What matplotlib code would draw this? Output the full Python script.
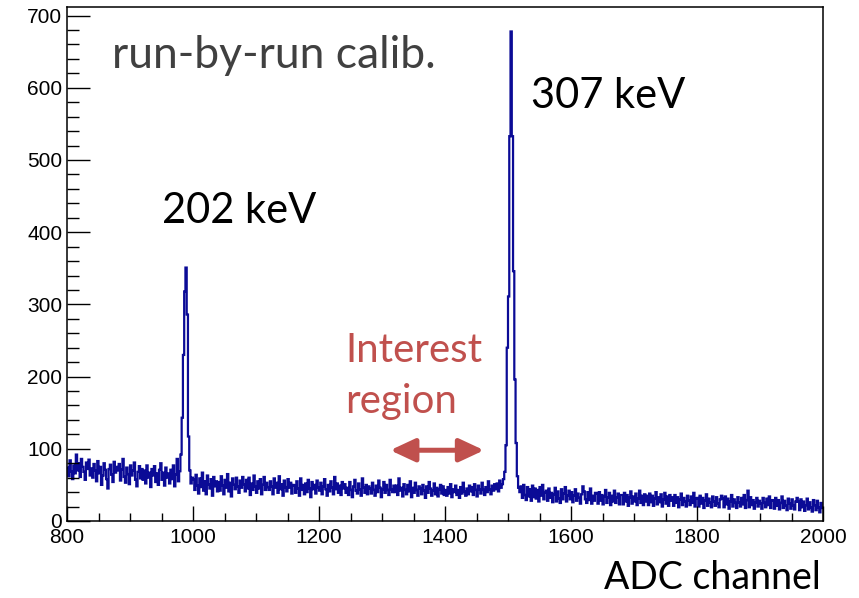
import numpy as np
import matplotlib
matplotlib.use("Agg")
import matplotlib.pyplot as plt
from matplotlib.ticker import MultipleLocator

# ==============================
# DATA (counts per 2-channel bin)
# ==============================
ADC_MIN = 800
ADC_MAX = 2000
BIN_WIDTH = 2

counts = [
    # 800 - 840
    74, 62, 84, 69, 58, 77, 66, 92, 70, 80, 61, 86, 75, 68, 57, 81, 72, 85, 63, 73,
    # 840 - 880
    60, 79, 70, 55, 83, 66, 75, 50, 63, 80, 71, 58, 45, 72, 78, 64, 54, 82, 67, 75,
    # 880 - 920
    70, 79, 56, 71, 86, 61, 53, 74, 65, 51, 77, 63, 70, 81, 57, 48, 68, 76, 59, 72,
    # 920 - 960
    57, 70, 52, 77, 60, 67, 47, 72, 63, 76, 54, 66, 50, 71, 80, 57, 67, 49, 74, 60,
    # 960 - 1000  (202 keV peak)
    66, 52, 71, 58, 77, 48, 64, 86, 55, 69, 92, 143, 230, 318, 351, 286, 117, 70, 52, 60,
    # 1000 - 1040
    58, 43, 64, 49, 38, 59, 47, 67, 42, 55, 37, 63, 51, 45, 58, 35, 61, 48, 55, 41,
    # 1040 - 1080
    54, 42, 62, 49, 37, 57, 46, 65, 41, 53, 34, 59, 50, 44, 60, 48, 39, 56, 46, 61,
    # 1080 - 1120
    51, 41, 57, 45, 60, 36, 52, 43, 63, 48, 39, 55, 45, 58, 37, 50, 61, 43, 53, 47,
    # 1120 - 1160
    43, 55, 48, 37, 59, 46, 53, 39, 62, 44, 51, 35, 56, 47, 41, 58, 46, 53, 38, 50,
    # 1160 - 1200
    49, 39, 55, 45, 35, 59, 43, 50, 37, 52, 40, 57, 45, 33, 54, 44, 50, 38, 56, 46,
    # 1200 - 1240
    42, 53, 37, 48, 58, 44, 35, 50, 41, 55, 46, 37, 61, 44, 52, 39, 49, 36, 54, 45,
    # 1240 - 1280
    51, 39, 46, 36, 54, 43, 33, 48, 57, 42, 38, 52, 44, 35, 59, 46, 39, 50, 37, 48,
    # 1280 - 1320
    45, 38, 53, 43, 35, 49, 40, 56, 46, 33, 44, 54, 39, 50, 43, 36, 57, 44, 40, 49,
    # 1320 - 1360
    40, 49, 36, 59, 42, 46, 34, 51, 43, 37, 50, 41, 55, 33, 46, 39, 53, 43, 35, 48,
    # 1360 - 1400
    45, 37, 50, 42, 32, 48, 39, 54, 45, 35, 42, 52, 37, 46, 34, 44, 50, 38, 48, 36,
    # 1400 - 1440
    43, 35, 47, 38, 51, 33, 44, 40, 49, 36, 43, 32, 47, 38, 53, 41, 35, 45, 37, 49,
    # 1440 - 1480
    41, 47, 36, 51, 43, 34, 49, 44, 38, 53, 43, 36, 47, 40, 55, 44, 37, 49, 42, 51,
    # 1480 - 1520  (307 keV peak)
    44, 52, 41, 56, 46, 51, 58, 68, 105, 240, 311, 533, 678, 533, 346, 196, 108, 62, 46, 40,
    # 1520 - 1560
    48, 32, 50, 36, 29, 47, 34, 44, 28, 49, 33, 45, 31, 43, 27, 47, 35, 50, 30, 39,
    # 1560 - 1600
    42, 28, 45, 32, 39, 26, 37, 46, 27, 41, 31, 25, 44, 30, 38, 47, 27, 35, 42, 30,
    # 1600 - 1640
    40, 26, 35, 44, 28, 38, 32, 24, 37, 48, 41, 30, 25, 40, 29, 45, 24, 35, 28, 39,
    # 1640 - 1680
    38, 24, 40, 28, 36, 23, 34, 43, 25, 33, 39, 22, 35, 27, 42, 25, 33, 38, 23, 36,
    # 1680 - 1720
    36, 23, 39, 27, 36, 21, 32, 41, 24, 34, 27, 38, 22, 31, 42, 25, 35, 22, 37, 27,
    # 1720 - 1760
    35, 22, 38, 26, 35, 21, 31, 40, 23, 33, 26, 37, 20, 30, 39, 24, 34, 21, 36, 28,
    # 1760 - 1800
    33, 21, 36, 25, 33, 19, 30, 38, 22, 32, 27, 20, 35, 28, 22, 34, 25, 39, 20, 31,
    # 1800 - 1840
    32, 20, 35, 24, 32, 18, 28, 37, 21, 31, 26, 19, 34, 27, 21, 33, 24, 19, 30, 35,
    # 1840 - 1880
    31, 19, 34, 23, 31, 17, 27, 36, 20, 30, 25, 18, 33, 26, 20, 32, 23, 36, 18, 29,
    # 1880 - 1920
    42, 19, 33, 22, 29, 17, 26, 32, 20, 28, 24, 17, 32, 25, 19, 31, 22, 34, 18, 28,
    # 1920 - 1960
    29, 17, 32, 21, 29, 16, 25, 34, 18, 28, 21, 15, 31, 24, 17, 30, 21, 16, 27, 32,
    # 1960 - 2000
    27, 15, 30, 19, 27, 14, 22, 31, 16, 26, 19, 13, 29, 22, 15, 28, 19, 12, 25, 18,
]

peak_labels = ["202 keV", "307 keV"]
title_text = "run-by-run calib."
region_lines = ["Interest", "region"]
region_range = [1313, 1462]   # arrow span in ADC channels
arrow_level = 98
x_label = "ADC channel"

# ==============================
# FIGURE
# ==============================
W, H = 859, 598
fig = plt.figure(figsize=(W / 100, H / 100), dpi=100)
ax = fig.add_axes([67 / W, 1 - 521 / H, (823 - 67) / W, (521 - 7) / H])

edges = np.arange(ADC_MIN, ADC_MAX + BIN_WIDTH, BIN_WIDTH)
ax.stairs(counts, edges, color="#0b0b96", lw=1.6, baseline=None)

ax.set_xlim(ADC_MIN, ADC_MAX)
ax.set_ylim(0, 1.05 * max(counts))

# ROOT-like axes
ax.xaxis.set_major_locator(MultipleLocator(200))
ax.xaxis.set_minor_locator(MultipleLocator(50))
ax.yaxis.set_major_locator(MultipleLocator(100))
ax.yaxis.set_minor_locator(MultipleLocator(20))
ax.tick_params(axis="both", which="both", direction="in", width=1.0, colors="black")
ax.tick_params(axis="y", which="major", length=16.5, pad=3.5)
ax.tick_params(axis="y", which="minor", length=8.3)
ax.tick_params(axis="x", which="major", length=11, pad=5)
ax.tick_params(axis="x", which="minor", length=5.5)
for lab in ax.get_xticklabels() + ax.get_yticklabels():
    lab.set_fontfamily("Liberation Sans")
    lab.set_fontsize(15)
for s in ax.spines.values():
    s.set_linewidth(1.1)

# ==============================
# ANNOTATIONS (slide text)
# ==============================
txt_font = ["Lato", "DejaVu Sans"]

def px(x, y):
    return x / W, 1 - y / H

fig.text(*px(112, 55), title_text, fontsize=32, color="#404040",
         family=txt_font, ha="left", va="center")
fig.text(*px(531, 96), peak_labels[1], fontsize=30, color="black",
         family=txt_font, ha="left", va="center")
fig.text(*px(162, 211), peak_labels[0], fontsize=30, color="black",
         family=txt_font, ha="left", va="center")
fig.text(*px(345, 350), region_lines[0], fontsize=29, color="#c0504d",
         family=txt_font, ha="left", va="center")
fig.text(*px(345, 401), region_lines[1], fontsize=29, color="#c0504d",
         family=txt_font, ha="left", va="center")
fig.text(*px(821, 578), x_label, fontsize=27, color="black",
         family=txt_font, ha="right", va="center")

ax.annotate("", xy=(region_range[0], arrow_level), xytext=(region_range[1], arrow_level),
            arrowprops=dict(arrowstyle="<|-|>,head_length=1.5,head_width=0.7",
                            color="#c0504d", lw=3.6, shrinkA=0, shrinkB=0))

fig.savefig("out.png", dpi=100)
